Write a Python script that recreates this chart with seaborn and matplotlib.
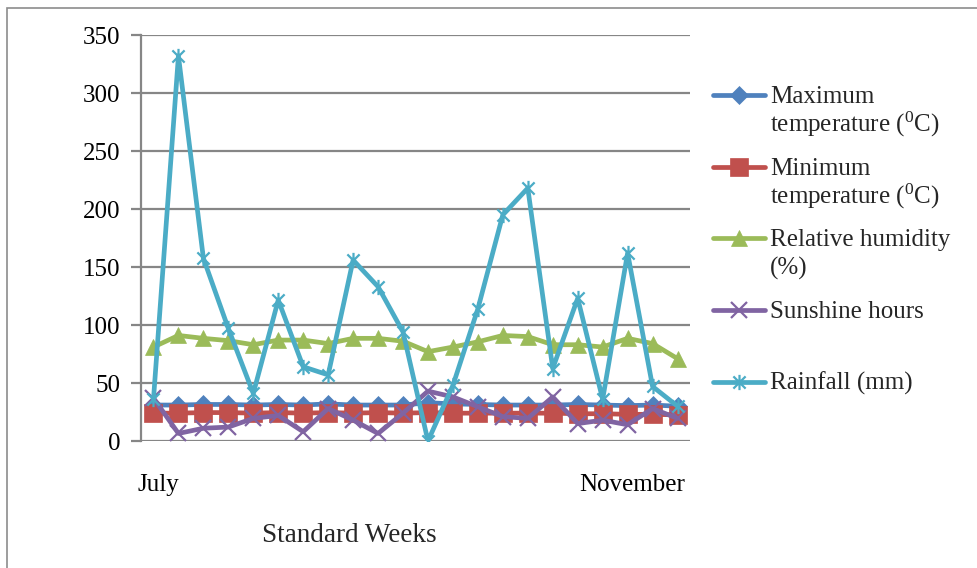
import matplotlib
matplotlib.use("Agg")
import matplotlib.pyplot as plt
import seaborn as sns
import numpy as np
from matplotlib.lines import Line2D
from matplotlib.path import Path
from matplotlib.patches import Rectangle
import matplotlib.transforms as mtransforms

# ---------------- data ----------------
weeks = list(range(27, 49))  # 22 standard weeks, July .. November
max_temp = [31, 31, 31.5, 31.5, 31, 31.5, 31, 32, 31, 31, 31, 33, 32, 31.5, 31, 31, 31, 31.5, 31, 30.5, 31, 30]
min_temp = [24, 24, 24.5, 24.5, 24, 24.5, 24, 24.5, 24, 24.5, 24, 24.5, 24, 24, 24, 24, 24, 23.5, 23.5, 23, 23, 22.5]
rel_humidity = [81, 91, 88.5, 86.5, 83, 87, 87, 84, 88.5, 88.5, 86, 77, 81, 85.5, 91, 90, 83, 83, 81, 88.5, 84, 71]
sunshine = [37, 6.5, 11, 12, 19.5, 22, 8, 28, 18, 6.5, 24, 43, 38, 29.5, 21, 19.5, 38, 15, 18, 14, 28, 19.5]
rainfall = [36, 332, 157.5, 97, 41, 121.5, 64, 57, 156, 133, 94, 0, 48, 114, 195, 218, 62.5, 123, 36, 162, 47, 30]
tick_labels = {27: "July", 48: "November"}
series_names = ["Maximum\ntemperature ($^{0}$C)", "Minimum\ntemperature ($^{0}$C)",
                "Relative humidity\n(%)", "Sunshine hours", "Rainfall (mm)"]

# ---------------- style ----------------
sns.set_theme(style="white")
plt.rcParams["font.family"] = ["Liberation Serif", "DejaVu Serif"]
plt.rcParams["mathtext.fontset"] = "custom"
plt.rcParams["mathtext.rm"] = "Liberation Serif"
plt.rcParams["mathtext.it"] = "Liberation Serif:italic"

FS = 18
W, H = 978, 568
fig = plt.figure(figsize=(W / 100, H / 100), dpi=100)
ax = fig.add_axes([141 / W, 1 - 441 / H, (690 - 141) / W, (441 - 35) / H])

colors = ["#4F81BD", "#C0504D", "#9BBB59", "#8064A2", "#4BACC6"]
star = Path([(-1, -1), (1, 1), (-1, 1), (1, -1), (0, -1.25), (0, 1.25)],
            [Path.MOVETO, Path.LINETO, Path.MOVETO, Path.LINETO, Path.MOVETO, Path.LINETO])
styles = [
    dict(marker="D", markersize=9, mec=colors[0], mew=0.5, mfc=colors[0]),
    dict(marker="s", markersize=13, mec=colors[1], mew=0.5, mfc=colors[1]),
    dict(marker="^", markersize=12, mec=colors[2], mew=0.5, mfc=colors[2]),
    dict(marker="x", markersize=11, mec=colors[3], mew=1.6),
    dict(marker=star, markersize=11, mec=colors[4], mew=1.6, mfc="none"),
]
all_series = [max_temp, min_temp, rel_humidity, sunshine, rainfall]

for vals, col, st in zip(all_series, colors, styles):
    sns.lineplot(x=weeks, y=vals, color=col, lw=3.4, ax=ax, legend=False, **st)

# ---------------- axes ----------------
grid_col = "#868686"
ax.set_xlim(26.5, 48.5)
ax.set_ylim(0, 350)
ax.set_yticks(np.arange(0, 351, 50))
ax.yaxis.grid(True, color=grid_col, lw=1.6)
ax.set_axisbelow(True)
for s in ["top", "right", "bottom"]:
    ax.spines[s].set_visible(False)
ax.spines["left"].set_color(grid_col)
ax.spines["left"].set_linewidth(1.6)
ax.tick_params(axis="y", which="major", left=True, length=7, width=1.6, color=grid_col,
               labelsize=FS, pad=8, labelcolor="black")
ax.set_xticks(list(tick_labels.keys()))
ax.set_xticklabels(list(tick_labels.values()))
ax.tick_params(axis="x", bottom=False, labelsize=FS, pad=18, labelcolor="black")
labs = ax.get_xticklabels()
labs[0].set_ha("center")
labs[0].set_transform(labs[0].get_transform() + mtransforms.ScaledTranslation(5 / 100, 0, fig.dpi_scale_trans))
labs[1].set_ha("right")
labs[1].set_transform(labs[1].get_transform() + mtransforms.ScaledTranslation(8 / 100, 0, fig.dpi_scale_trans))
ax.set_xlabel("")
ax.set_ylabel("")

fig.text(349 / W, 1 - 535 / H, "Standard Weeks", fontsize=19.5, ha="center", va="center")

# ---------------- legend (drawn by hand to match Excel layout) ----------------
leg_y = [95, 167, 238, 310, 382]
for name, col, st, y in zip(series_names, colors, styles, leg_y):
    yf = 1 - y / H
    ln = Line2D([713 / W, 739 / W, 765 / W], [yf, yf, yf], transform=fig.transFigure,
                color=col, lw=3.4, markevery=[1], **st)
    fig.add_artist(ln)
    for i, line in enumerate(name.split("\n")):
        fig.text(770 / W, 1 - (y + 8 + 29 * i) / H, line, fontsize=FS, ha="left", va="baseline")

# outer frame
fig.add_artist(Rectangle((7.5 / W, -0.05), 1.1, 1 - 7.5 / H + 0.05, transform=fig.transFigure,
                         fill=False, ec="#8c8c8c", lw=1.2))

fig.savefig("out.png", dpi=100)
